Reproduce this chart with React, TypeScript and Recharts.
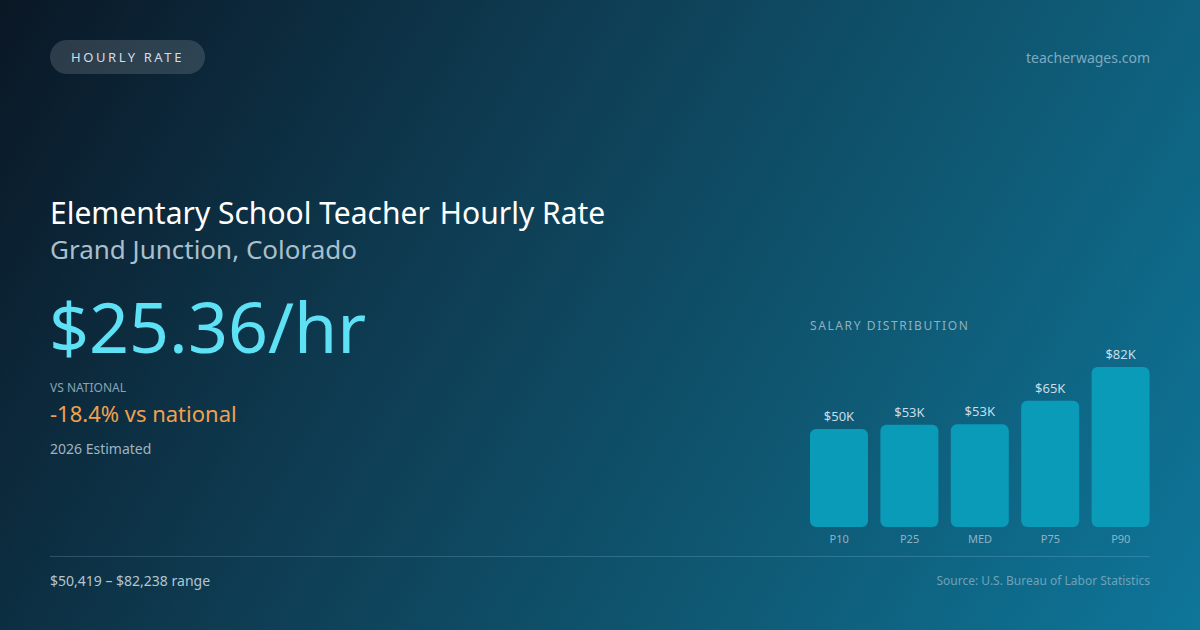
import { BarChart, Bar, XAxis, YAxis, LabelList, Cell } from 'recharts';

const categories = ['P10', 'P25', 'MED', 'P75', 'P90'];
const salaries = [50419, 52600, 52749, 64900, 82238];
const barLabels = ['$50K', '$53K', '$53K', '$65K', '$82K'];

const data = categories.map((name, i) => ({
  name,
  value: salaries[i],
  label: barLabels[i],
}));

const FONT = '"Noto Sans", "Open Sans", sans-serif';

export default function App() {
  const maxValue = Math.max(...salaries);

  return (
    <div
      style={{
        position: 'relative',
        width: 1200,
        height: 630,
        overflow: 'hidden',
        fontFamily: FONT,
        background: 'linear-gradient(120deg, #0a1725 0%, #0e3a50 35%, #0f5670 65%, #0e769a 100%)',
      }}
    >
      <style>{'body{margin:0}'}</style>

      {/* pill */}
      <div
        style={{
          position: 'absolute',
          left: 50,
          top: 40,
          width: 155,
          height: 34,
          borderRadius: 17,
          background: 'rgba(255,255,255,0.14)',
          color: '#d3dde3',
          fontSize: 13,
          letterSpacing: 2.6,
          lineHeight: '34px',
          textAlign: 'center',
          whiteSpace: 'nowrap',
        }}
      >
        HOURLY RATE
      </div>

      <div
        style={{
          position: 'absolute',
          right: 50,
          top: 48,
          color: '#7eaac0',
          fontSize: 14,
        }}
      >
        teacherwages.com
      </div>

      <div
        style={{
          position: 'absolute',
          left: 50,
          top: 193,
          color: '#ffffff',
          fontSize: 30,
          lineHeight: '40px',
          whiteSpace: 'nowrap',
        }}
      >
        <span>Elementary School Teacher</span>
        <span style={{ marginLeft: 10 }}>Hourly Rate</span>
      </div>

      <div
        style={{
          position: 'absolute',
          left: 50,
          top: 232,
          color: '#a9bfcb',
          fontSize: 26,
          lineHeight: '34px',
          whiteSpace: 'nowrap',
        }}
      >
        Grand Junction, Colorado
      </div>

      <div
        style={{
          position: 'absolute',
          left: 49,
          top: 278,
          color: '#5fe1f5',
          fontSize: 70,
          lineHeight: '96px',
          whiteSpace: 'nowrap',
        }}
      >
        $25.36/hr
      </div>

      <div
        style={{
          position: 'absolute',
          left: 50,
          top: 380,
          color: '#8aa4b4',
          fontSize: 12,
          lineHeight: '16px',
        }}
      >
        VS NATIONAL
      </div>

      <div
        style={{
          position: 'absolute',
          left: 50,
          top: 398,
          color: '#f0a04e',
          fontSize: 22,
          lineHeight: '30px',
          whiteSpace: 'nowrap',
        }}
      >
        -18.4% vs national
      </div>

      <div
        style={{
          position: 'absolute',
          left: 50,
          top: 440,
          color: '#9fb4c1',
          fontSize: 14,
          lineHeight: '18px',
        }}
      >
        2026 Estimated
      </div>

      <div
        style={{
          position: 'absolute',
          left: 810,
          top: 318,
          color: '#8fb0c0',
          fontSize: 12,
          letterSpacing: 1.6,
          lineHeight: '16px',
          whiteSpace: 'nowrap',
        }}
      >
        SALARY DISTRIBUTION
      </div>

      <div style={{ position: 'absolute', left: 804, top: 337 }}>
        <BarChart
          width={352}
          height={212}
          data={data}
          margin={{ top: 30, right: 0, bottom: 0, left: 0 }}
          barSize={58}
        >
          <XAxis
            dataKey="name"
            axisLine={false}
            tickLine={false}
            tickSize={0}
            tickMargin={8}
            height={22}
            interval={0}
            tick={{ fill: '#8fb3c3', fontSize: 11, fontFamily: FONT }}
          />
          <YAxis hide domain={[0, maxValue]} allowDataOverflow />
          <Bar dataKey="value" radius={[6, 6, 6, 6]} isAnimationActive={false}>
            {data.map((d) => (
              <Cell key={d.name} fill="#0a9bb9" />
            ))}
            <LabelList
              dataKey="label"
              position="top"
              offset={8}
              fill="#c9dde5"
              fontSize={13}
              fontFamily={FONT}
            />
          </Bar>
        </BarChart>
      </div>

      <div
        style={{
          position: 'absolute',
          left: 50,
          top: 556,
          width: 1100,
          height: 1,
          background: 'rgba(160,210,230,0.22)',
        }}
      />

      <div
        style={{
          position: 'absolute',
          left: 50,
          top: 572,
          color: '#b2c6d1',
          fontSize: 14,
          lineHeight: '18px',
        }}
      >
        $50,419 – $82,238 range
      </div>

      <div
        style={{
          position: 'absolute',
          right: 50,
          top: 573,
          color: '#6fa2b8',
          fontSize: 12,
          lineHeight: '16px',
        }}
      >
        Source: U.S. Bureau of Labor Statistics
      </div>
    </div>
  );
}
